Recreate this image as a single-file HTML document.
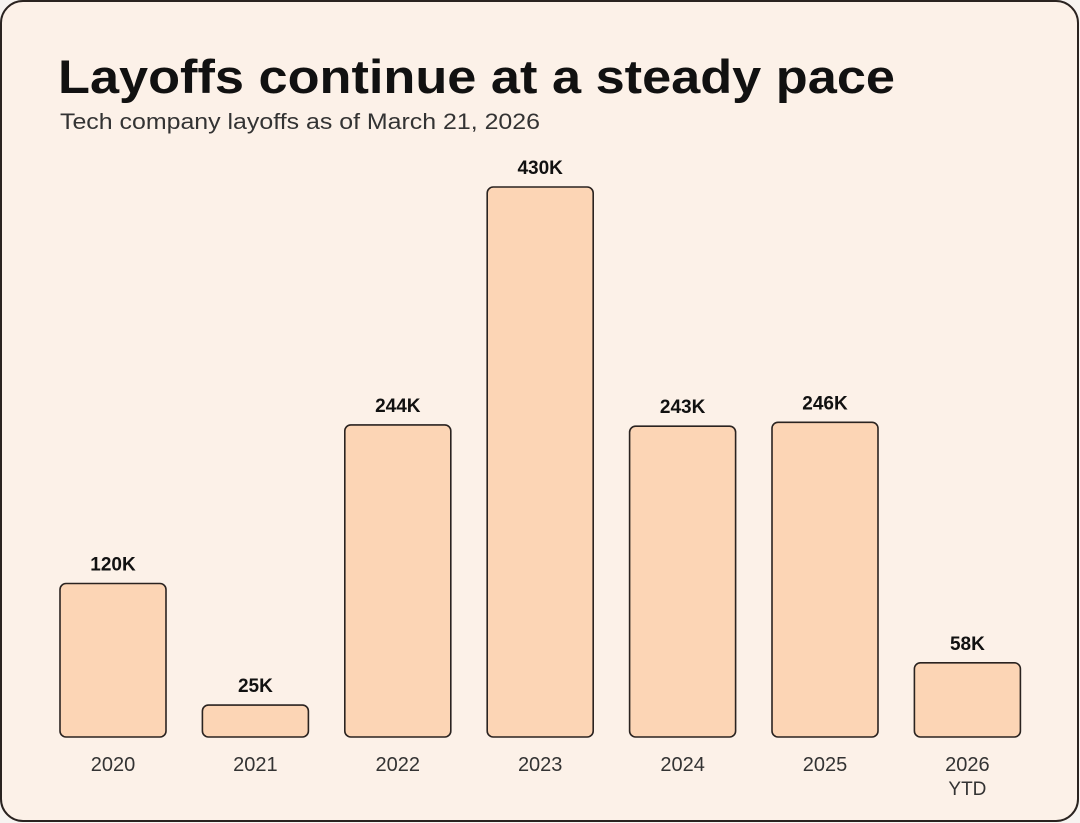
<!DOCTYPE html>
<html><head><meta charset="utf-8"><style>
html,body{margin:0;padding:0;background:#f7f4f1;width:1080px;height:823px;overflow:hidden}
svg{display:block;font-family:"Liberation Sans",sans-serif}
</style></head><body>
<svg id="chart" width="1080" height="823">
<rect x="1" y="1" width="1077" height="820" rx="22" fill="#fcf1e8" stroke="#2a2320" stroke-width="2"/>
<text x="58" y="93" font-size="47" font-weight="bold" fill="#111" textLength="837" lengthAdjust="spacingAndGlyphs">Layoffs continue at a steady pace</text>
<text x="60" y="129" font-size="22" fill="#333" textLength="480" lengthAdjust="spacingAndGlyphs">Tech company layoffs as of March 21, 2026</text>
<g id="bars"></g>
</svg>
<script>
const categories = ["2020","2021","2022","2023","2024","2025","2026"];
const values = [120,25,244,430,243,246,58];
const valueLabels = ["120K","25K","244K","430K","243K","246K","58K"];
const subLabels = ["","","","","","","YTD"];
const baseline = 737, pxPerK = 550/430, x0 = 60, step = 142.4, barW = 106;
const yScale = v => baseline - v*pxPerK;
const xScale = i => x0 + i*step;
const ns = "http://www.w3.org/2000/svg";
const g = document.getElementById("bars");
function mk(tag, attrs, text){const e=document.createElementNS(ns,tag);for(const k in attrs)e.setAttribute(k,attrs[k]);if(text!==undefined)e.textContent=text;g.appendChild(e);return e;}
categories.forEach((c,i)=>{
  const x=xScale(i), y=yScale(values[i]);
  const r=mk("rect",{x:x,y:y,width:barW,height:baseline-y,rx:6,fill:"#fcd5b5",stroke:"#2a2320","stroke-width":1.6});
  
  
  const v=mk("text",{x:x+barW/2,y:y-13,"text-anchor":"middle","font-size":19,"font-weight":"bold",fill:"#111"},valueLabels[i]);
  
  
  const t=mk("text",{x:x+barW/2,y:771,"text-anchor":"middle","font-size":20,fill:"#333"},c);
  
  
  if(subLabels[i]){
    const s=mk("text",{x:x+barW/2,y:795,"text-anchor":"middle","font-size":19,fill:"#333"},subLabels[i]);
    
    
  }
});
</script>
</body></html>
